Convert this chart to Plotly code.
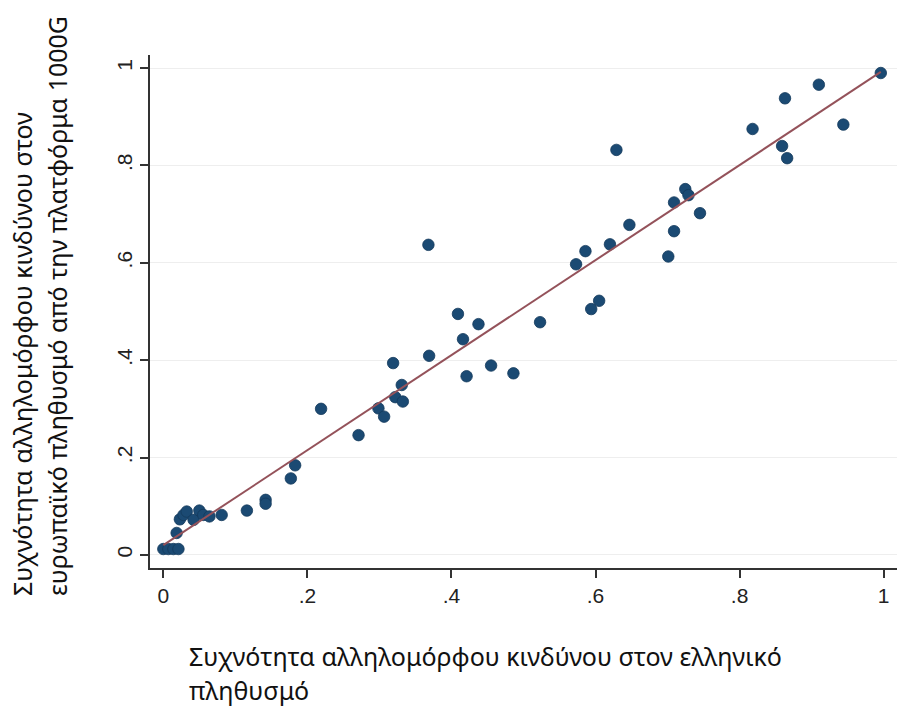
import numpy as np
import plotly.graph_objects as go

# Risk-allele frequency: Greek population (x) vs European 1000G population (y)
freq_greek = [
    0.000, 0.007, 0.014, 0.021, 0.0185, 0.023, 0.028, 0.0325, 0.042, 0.050,
    0.0555, 0.064, 0.081, 0.116, 0.142, 0.142, 0.177, 0.183, 0.219, 0.271,
    0.2986, 0.3065, 0.319, 0.322, 0.3325, 0.331, 0.369, 0.368, 0.409, 0.416,
    0.4375, 0.421, 0.455, 0.486, 0.523, 0.573, 0.586, 0.594, 0.605, 0.620,
    0.629, 0.647, 0.701, 0.709, 0.709, 0.7246, 0.729, 0.745, 0.818, 0.859,
    0.866, 0.863, 0.910, 0.944, 0.996,
]
freq_europe = [
    0.012, 0.012, 0.012, 0.012, 0.045, 0.073, 0.082, 0.089, 0.072, 0.091,
    0.082, 0.079, 0.082, 0.091, 0.113, 0.105, 0.157, 0.184, 0.300, 0.246,
    0.301, 0.284, 0.394, 0.324, 0.315, 0.349, 0.409, 0.637, 0.495, 0.443,
    0.474, 0.367, 0.389, 0.373, 0.478, 0.597, 0.624, 0.505, 0.522, 0.638,
    0.832, 0.678, 0.613, 0.665, 0.724, 0.7515, 0.739, 0.702, 0.875, 0.840,
    0.815, 0.938, 0.966, 0.884, 0.990,
]

tick_vals = [0, 0.2, 0.4, 0.6, 0.8, 1]
tick_text = ["0", ".2", ".4", ".6", ".8", "1"]

x_title_lines = ["Συχνότητα αλληλομόρφου κινδύνου στον ελληνικό", "πληθυσμό"]
y_title_lines = ["Συχνότητα αλληλομόρφου κινδύνου στον",
                 "ευρωπαϊκό πληθυσμό από την πλατφόρμα 1000G"]

# Linear fit of European on Greek frequencies
slope, intercept = np.polyfit(freq_greek, freq_europe, 1)
fit_x = np.array([min(freq_greek), max(freq_greek)])
fit_y = intercept + slope * fit_x

W, H = 908, 709
ML, MR, MT, MB = 150, 11, 55, 141
PW, PH = W - ML - MR, H - MT - MB


def px_x(px):
    return (px - ML) / PW


def px_y(py):
    return (H - MB - py) / PH


fig = go.Figure()
fig.add_trace(go.Scatter(
    x=freq_greek, y=freq_europe, mode="markers",
    marker=dict(size=11.5, color="#1b4a73", line=dict(color="#143a5c", width=0.8)),
    showlegend=False, hoverinfo="x+y",
))
fig.add_trace(go.Scatter(
    x=fit_x, y=fit_y, mode="lines",
    line=dict(color="#94525a", width=2),
    showlegend=False, hoverinfo="skip",
))

axis_common = dict(
    tickvals=tick_vals, ticktext=tick_text,
    ticks="outside", ticklen=8, tickwidth=1.5, tickcolor="#333333",
    showline=True, linewidth=1.5, linecolor="#333333",
    tickfont=dict(family="Liberation Sans, Arial, sans-serif", size=21, color="#222222"),
    zeroline=False, mirror=False,
)

fig.update_layout(
    width=W, height=H,
    margin=dict(l=ML, r=MR, t=MT, b=MB),
    paper_bgcolor="white", plot_bgcolor="white",
    xaxis=dict(range=[-0.0185, 1.0185], showgrid=False, **axis_common),
    yaxis=dict(range=[-0.027, 1.027], showgrid=True, gridcolor="#eeeeee",
               gridwidth=1, tickangle=-90, **axis_common),
)

title_font = dict(family="Noto Sans, sans-serif", size=25, color="#111111")
for py, text in zip([656, 690], x_title_lines):
    fig.add_annotation(
        text=text, xref="paper", yref="paper",
        x=px_x(187), y=px_y(py), xanchor="left", yanchor="middle",
        showarrow=False, font=title_font,
    )
for px, text in zip([22, 57], y_title_lines):
    fig.add_annotation(
        text=text, xref="paper", yref="paper", textangle=-90,
        x=px_x(px), y=px_y(598), xanchor="center", yanchor="bottom",
        showarrow=False, font=title_font,
    )

fig.write_html("out.html")
